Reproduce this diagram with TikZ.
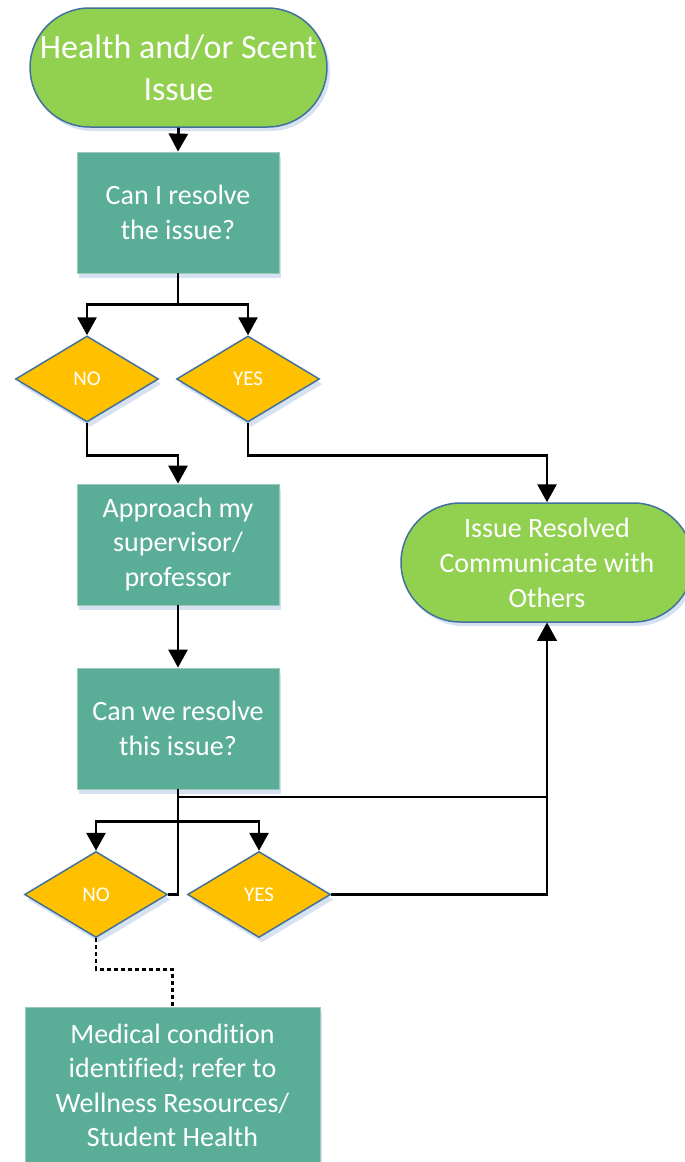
\documentclass[tikz,border=0pt]{standalone}
\usepackage{fontspec}
\setmainfont{Carlito}[Ligatures=NoCommon]
\usetikzlibrary{arrows.meta,shapes.geometric,shapes.misc,shadows}
\definecolor{termgreen}{HTML}{92D050}
\definecolor{tealbox}{HTML}{5AAE98}
\definecolor{tealedge}{HTML}{9CC9BD}
\definecolor{diamy}{HTML}{FFC000}
\definecolor{edgeblue}{HTML}{41719C}
\definecolor{shadowblue}{HTML}{D6E2F2}
\tikzset{
  x=1pt, y=-1pt,
  term/.style={rounded rectangle, draw=edgeblue, line width=1.5pt, fill=termgreen,
    text=white, align=center, inner sep=0pt,
    drop shadow={shadow xshift=3pt, shadow yshift=-4pt, fill=shadowblue, opacity=1}},
  procbox/.style={rectangle, draw=tealedge, line width=0.8pt, fill=tealbox, text=white,
    align=center, inner sep=0pt, minimum width=202pt, minimum height=121pt,
    font=\fontsize{28}{34.5}\selectfont,
    drop shadow={shadow xshift=2pt, shadow yshift=-5pt, fill=shadowblue, opacity=1}},
  decide/.style={diamond, draw=edgeblue, line width=1.5pt, fill=diamy, text=white,
    inner sep=0pt, minimum width=143pt, minimum height=86pt, aspect=1.66,
    font=\fontsize{21}{25}\selectfont,
    drop shadow={shadow xshift=3pt, shadow yshift=-5pt, fill=shadowblue, opacity=1}},
  conn/.style={line width=2.8pt, black},
  arr/.style={conn, -{Triangle[width=19pt,length=18pt]}},
  dconn/.style={line width=2.6pt, black, dash pattern=on 4pt off 3pt}
}
\begin{document}
\begin{tikzpicture}
\useasboundingbox (0,0) rectangle (685,1162);
\fill[white] (0,0) rectangle (685,1162);

\node[term, minimum width=295pt, minimum height=119pt,
  font=\fontsize{34}{42}\selectfont] (start) at (178.5,67.5) {Health and/or Scent\\Issue};
\node[procbox] (q1) at (178,212.5) {Can I resolve\\the issue?};
\node[decide] (no1) at (87,379) {NO};
\node[decide] (yes1) at (248,379) {YES};
\node[procbox] (appr) at (178,544.5) {Approach my\\supervisor/\\professor};
\node[term, minimum width=292pt, minimum height=119pt,
  font=\fontsize{28}{35}\selectfont] (res) at (547,562.5) {Issue Resolved\\Communicate with\\Others};
\node[procbox] (q2) at (178,728.5) {Can we resolve\\this issue?};
\node[decide] (no2) at (96,894.5) {NO};
\node[decide] (yes2) at (259,894.5) {YES};
\node[procbox, minimum width=295pt, minimum height=157pt] (med) at (172.5,1085.5)
  {Medical condition\\identified; refer to\\Wellness Resources/\\Student Health};

% connectors
\draw[arr] (start.south) -- (q1.north);
\draw[conn] (q1.south) -- ++(0,31) coordinate (s1);
\draw[arr] (s1) -| (no1.north);
\draw[arr] (s1) -| (yes1.north);
\draw[arr] (no1.south) -- ++(0,33) -| (appr.north);
\draw[arr] (yes1.south) -- ++(0,33) -| (res.north);
\draw[arr] (appr.south) -- (q2.north);
\draw[conn] (q2.south) -- ++(0,32) coordinate (s2);
\draw[arr] (s2) -| (no2.north);
\draw[arr] (s2) -| (yes2.north);
\coordinate (j2) at (178,797);
\draw[conn] (no2.east) -- (q2.south |- no2.east) -- (j2);
\draw[arr] (j2) -| (res.south);
\draw[arr] (yes2.east) -| (res.south);
\draw[dconn] (no2.south) -- ++(0,31) -| (med.north);
\end{tikzpicture}
\end{document}
